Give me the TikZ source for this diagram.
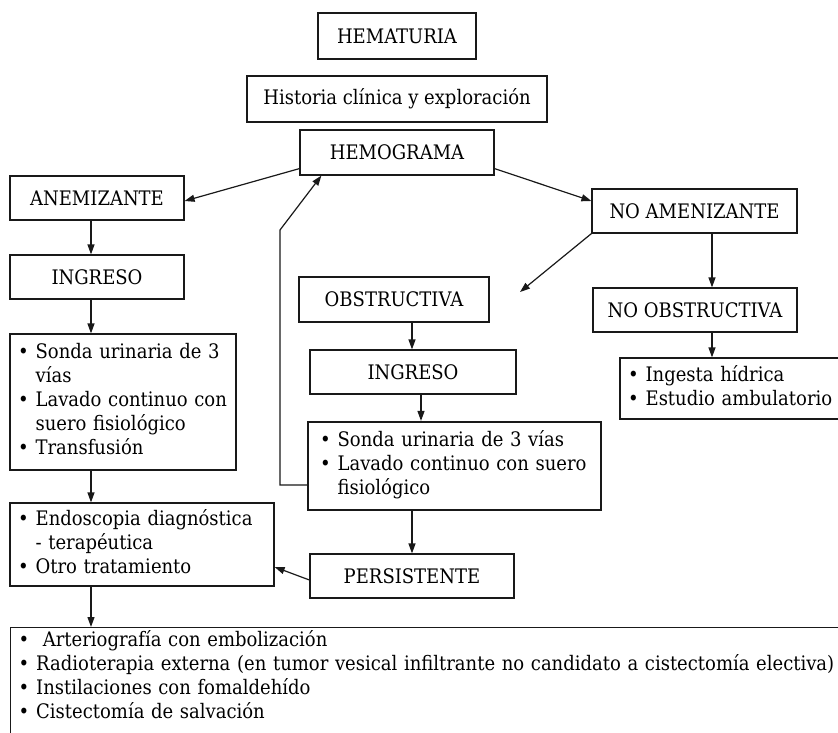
\documentclass[tikz,border=0pt]{standalone}
\usepackage{fontspec}
\setmainfont{DejaVu Serif Condensed}
\usetikzlibrary{arrows.meta}

\newcommand{\lista}[1]{\begin{tabular}{@{}l@{\hspace{7pt}}l@{}}#1\end{tabular}}

\begin{document}
\begin{tikzpicture}[x=1pt,y=-1pt,
		caja/.style={draw=black!90,line width=1.2pt,inner sep=0pt,font=\fontsize{20}{24}\selectfont},
		cajalista/.style={caja,inner xsep=8pt,align=left},
		flecha/.style={draw=black!90,line width=1.2pt,-{Triangle[length=10pt,width=7pt]}}]
		\useasboundingbox (0,0) rectangle (838,733);
		\clip (0,0) rectangle (838,733);
		\node[caja,minimum width=158pt,minimum height=46pt] (hematuria) at (397,36) {HEMATURIA};
		\node[caja,minimum width=300pt,minimum height=46pt] (historia) at (397,99) {Historia clínica y exploración};
		\node[caja,minimum width=194pt,minimum height=45pt] (hemograma) at (397,152.5) {HEMOGRAMA};
		\node[caja,minimum width=174pt,minimum height=44pt] (anemizante) at (97,198) {ANEMIZANTE};
		\node[caja,minimum width=205pt,minimum height=44pt] (noanem) at (694.5,211) {NO AMENIZANTE};
		\node[caja,minimum width=174pt,minimum height=44pt] (ingresoL) at (97,277) {INGRESO};
		\node[caja,minimum width=190pt,minimum height=45pt] (obstructiva) at (394,299.5) {OBSTRUCTIVA};
		\node[caja,minimum width=204pt,minimum height=44pt] (noobstr) at (695,310) {NO OBSTRUCTIVA};
		\node[caja,minimum width=206pt,minimum height=44pt] (ingresoM) at (413,372) {INGRESO};
		\node[caja,minimum width=204pt,minimum height=44pt] (persistente) at (412,576) {PERSISTENTE};
		\node[cajalista,text width=210pt,minimum height=136pt] (sondaL) at (123,402)
			{\lista{• & Sonda urinaria de 3\\ & vías\\ • & Lavado continuo con\\ & suero fisiológico\\ • & Transfusión}};
		\node[cajalista,inner xsep=12pt,text width=269pt,minimum height=88pt,line width=2.2pt] (sondaM) at (454.5,466)
			{\lista{• & Sonda urinaria de 3 vías\\ • & Lavado continuo con suero\\ & fisiológico}};
		\node[cajalista,text width=224pt,minimum height=61pt] (ingesta) at (740,388.5)
			{\lista{• & Ingesta hídrica\\ • & Estudio ambulatorio}};
		\node[cajalista,text width=248pt,minimum height=83pt] (endoscopia) at (142,544.5)
			{\lista{• & Endoscopia diagnóstica\\ & - terapéutica\\ • & Otro tratamiento}};
		\node[cajalista,inner ysep=2pt,text width=880pt,anchor=north west] (trat) at (10,627)
			{\lista{• & \ Arteriografía con embolización\\ • & Radioterapia externa (en tumor vesical infiltrante no candidato a cistectomía electiva)\\ • & Instilaciones con fomaldehído\\ • & Cistectomía de salvación\rule[-30pt]{0pt}{0pt}}};
		\coordinate (xizq) at (91,0);
		\coordinate (xder) at (712,0);
		\coordinate (xmed) at (412,0);
		\coordinate (xmed2) at (421,0);
		\coordinate (puntaobs) at (520,292);
		\coordinate (retorno) at (280,230);
		\draw[flecha] ([yshift=7pt]hemograma.south west) -- ([yshift=-3pt]anemizante.east);
		\draw[flecha] ([yshift=7pt]hemograma.south east) -- ([yshift=10pt]noanem.west);
		\draw[flecha] (noanem.south west) -- (puntaobs);
		\draw[flecha] (xder |- noanem.south) -- (xder |- noobstr.north);
		\draw[flecha] (xder |- noobstr.south) -- (xder |- ingesta.north);
		\draw[flecha] (xizq |- anemizante.south) -- (xizq |- ingresoL.north);
		\draw[flecha] (xizq |- ingresoL.south) -- (xizq |- sondaL.north);
		\draw[flecha] (xizq |- sondaL.south) -- (xizq |- endoscopia.north);
		\draw[flecha] (xizq |- endoscopia.south) -- (xizq |- trat.north);
		\draw[flecha] (xmed |- obstructiva.south) -- (xmed |- ingresoM.north);
		\draw[flecha] (xmed2 |- ingresoM.south) -- (xmed2 |- sondaM.north);
		\draw[flecha] (xmed |- sondaM.south) -- (xmed |- persistente.north);
		\draw[flecha] ([yshift=-4pt]persistente.west) -- ([yshift=-22.5pt]endoscopia.east);
		\draw[flecha] ([yshift=-19pt]sondaM.west) -| (retorno) -- ([xshift=22pt]hemograma.south west);
	\end{tikzpicture}
\end{document}
